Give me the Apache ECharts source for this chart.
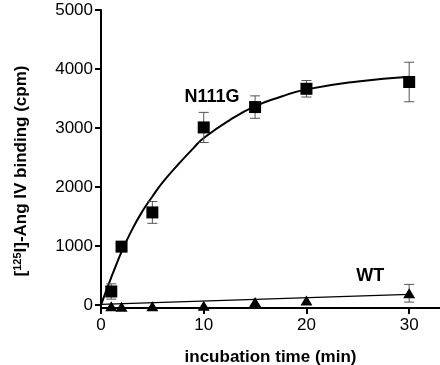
<!DOCTYPE html>
<html><head><meta charset="utf-8">
<script src="https://cdn.jsdelivr.net/npm/echarts@6/dist/echarts.min.js"></script>
<style>html,body{margin:0;padding:0;background:#fff}#c{width:440px;height:365px}</style>
</head><body><div id="c"></div>
<script>
var xTicks = [0, 10, 20, 30];
var yTicks = [0, 1000, 2000, 3000, 4000, 5000];
var mutTime = [1, 2, 5, 10, 15, 20, 30];
var mutMean = [230, 990, 1570, 3010, 3355, 3665, 3780];
var mutErr = [130, 0, 185, 255, 190, 140, 335];
var wtTime = [1, 2, 5, 10, 15, 20, 30];
var wtMean = [-20, -30, -20, -12, 50, 75, 200];
var wtErr = [0, 0, 0, 0, 0, 0, 150];
var mutFitT = [0, 0.5, 1, 1.5, 2, 3, 4, 5, 6, 7.5, 9, 10, 12.5, 15, 17.5, 20, 25, 30];
var mutFitY = [0, 240, 470, 690, 900, 1270, 1580, 1840, 2080, 2380, 2660, 2830, 3130, 3370, 3530, 3655, 3790, 3870];
var wtFitT = [0, 30];
var wtFitY = [10, 180];
var labelText = ['N111G', 'WT'];
var labelPos = [[10.8, 3530], [26.2, 500]];

function zip(a, b) { return a.map(function (v, i) { return [v, b[i]]; }); }
function errData(t, m, e) { return t.map(function (v, i) { return [v, m[i] - e[i], m[i] + e[i]]; }).filter(function (d, i) { return e[i] > 0; }); }

function errRender(params, api) {
  var x = api.value(0);
  var lo = api.coord([x, api.value(1)]);
  var hi = api.coord([x, api.value(2)]);
  var w = 5;
  var st = { stroke: '#555', lineWidth: 1 };
  return {
    type: 'group',
    children: [
      { type: 'line', shape: { x1: lo[0], y1: lo[1], x2: hi[0], y2: hi[1] }, style: st },
      { type: 'line', shape: { x1: lo[0] - w, y1: lo[1], x2: lo[0] + w, y2: lo[1] }, style: st },
      { type: 'line', shape: { x1: hi[0] - w, y1: hi[1], x2: hi[0] + w, y2: hi[1] }, style: st }
    ]
  };
}

var FONT = 'Liberation Sans';
var chart = echarts.init(document.getElementById('c'));
chart.setOption({
  animation: false,
  textStyle: { fontFamily: FONT },
  grid: { left: 101, right: 0, top: 10, bottom: 57, containLabel: false, outerBoundsMode: 'none' },
  xAxis: {
    type: 'value', min: 0, max: 33,
    name: 'incubation time (min)', nameLocation: 'middle', nameGap: 41,
    nameTextStyle: { fontSize: 17, fontWeight: 'bold', color: '#000', fontFamily: FONT },
    axisLine: { show: true, onZero: false, lineStyle: { color: '#000', width: 2 } },
    axisTick: { show: true, length: 6, lineStyle: { color: '#000', width: 2 }, customValues: xTicks },
    axisLabel: { fontSize: 17, color: '#000', margin: 9, customValues: xTicks, fontFamily: FONT, formatter: function (v) { return String(v); } },
    splitLine: { show: false }
  },
  yAxis: {
    type: 'value', min: -50, max: 5000,
    name: '[{sup|125}I]-Ang IV binding (cpm)', nameLocation: 'middle', nameGap: 70, nameRotate: 90,
    nameTextStyle: { fontSize: 17, fontWeight: 'bold', color: '#000', fontFamily: FONT, padding: [0, 24, 0, 0],
      rich: { sup: { fontSize: 11, fontWeight: 'bold', verticalAlign: 'bottom', padding: [0, 0, 8, 0], fontFamily: FONT } } },
    axisLine: { show: true, onZero: false, lineStyle: { color: '#000', width: 2 } },
    axisTick: { show: true, length: 6, lineStyle: { color: '#000', width: 2 }, customValues: yTicks },
    axisLabel: { fontSize: 17, color: '#000', margin: 8, customValues: yTicks, fontFamily: FONT, formatter: function (v) { return String(v); } },
    splitLine: { show: false }
  },
  series: [
    { type: 'line', data: zip(mutFitT, mutFitY), smooth: true, showSymbol: false, lineStyle: { color: '#000', width: 2 }, z: 2 },
    { type: 'line', data: zip(wtFitT, wtFitY), showSymbol: false, lineStyle: { color: '#000', width: 1.2 }, z: 2 },
    { type: 'custom', data: errData(mutTime, mutMean, mutErr), renderItem: errRender, z: 3 },
    { type: 'custom', data: errData(wtTime, wtMean, wtErr), renderItem: errRender, z: 3 },
    { type: 'scatter', data: zip(mutTime, mutMean), symbol: 'rect', symbolSize: 12, itemStyle: { color: '#000', opacity: 1 }, z: 4 },
    { type: 'scatter', data: zip(wtTime, wtMean), symbol: 'triangle', symbolSize: [12, 10], itemStyle: { color: '#000', opacity: 1 }, z: 4 },
    { type: 'scatter', data: labelPos.map(function (p, i) { return { value: p, name: labelText[i] }; }),
      symbolSize: 0, silent: true, z: 5, itemStyle: { color: '#000', opacity: 1 },
      label: { show: true, position: 'inside', formatter: '{b}', fontSize: 18, fontWeight: 'bold', color: '#000', opacity: 1, fontFamily: FONT } }
  ]
});
</script></body></html>
